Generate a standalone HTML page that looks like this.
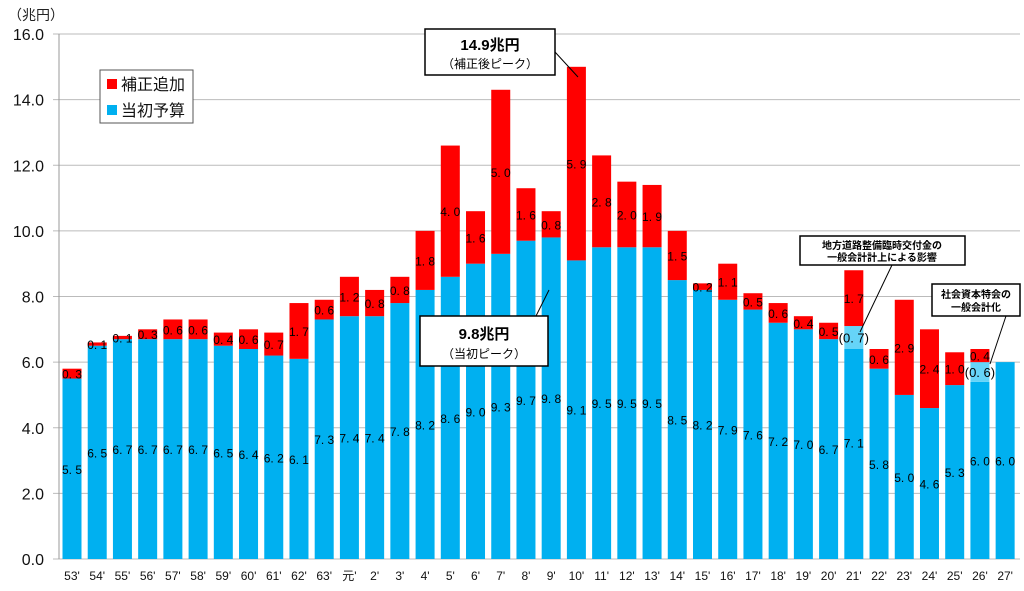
<!DOCTYPE html>
<html><head><meta charset="utf-8"><style>
body{margin:0;background:#fff;width:1024px;height:586px;overflow:hidden;font-family:"Liberation Sans","Noto Sans CJK JP",sans-serif}
svg text{font-family:"Liberation Sans","Noto Sans CJK JP",sans-serif}
</style></head><body>
<svg id="chart" width="1024" height="586" xmlns="http://www.w3.org/2000/svg">
<g id="grid"></g><g id="bars"></g><g id="labels"></g>
<text x="8" y="20" font-size="14" fill="#222">（兆円）</text>
<g>
<rect x="100" y="70" width="93" height="53" fill="#fff" stroke="#555"/>
<rect x="107" y="79" width="10" height="10" fill="#ff0000"/>
<text x="121" y="90" font-size="16" fill="#111">補正追加</text>
<rect x="107" y="105" width="10" height="10" fill="#00b0f0"/>
<text x="121" y="116" font-size="16" fill="#111">当初予算</text>
</g>
<g>
<line x1="555" y1="52" x2="578" y2="77" stroke="#000"/>
<rect x="425" y="29" width="130" height="46" fill="#fff" stroke="#000" stroke-width="1.5"/>
<text x="490" y="50" font-size="15" text-anchor="middle" font-weight="bold">14.9兆円</text>
<text x="490" y="68" font-size="12" text-anchor="middle">（補正後ピーク）</text>
</g>
<g>
<line x1="535" y1="318" x2="549" y2="290" stroke="#000"/>
<rect x="420" y="316" width="128" height="50" fill="#fff" stroke="#000" stroke-width="1.5"/>
<text x="484" y="339" font-size="15" text-anchor="middle" font-weight="bold">9.8兆円</text>
<text x="484" y="358" font-size="12" text-anchor="middle">（当初ピーク）</text>
</g>
<g>
<line x1="892" y1="265" x2="860" y2="332" stroke="#000"/>
<rect x="800" y="236" width="165" height="29" fill="#fff" stroke="#000" stroke-width="1.5"/>
<text x="882" y="249" font-size="10" text-anchor="middle" font-weight="bold">地方道路整備臨時交付金の</text>
<text x="882" y="261" font-size="10" text-anchor="middle" font-weight="bold">一般会計計上による影響</text>
</g>
<g>
<line x1="1006" y1="316" x2="990" y2="364" stroke="#000"/>
<rect x="932" y="284" width="88" height="32" fill="#fff" stroke="#000" stroke-width="1.5"/>
<text x="976" y="298" font-size="10" text-anchor="middle" font-weight="bold">社会資本特会の</text>
<text x="976" y="311" font-size="10" text-anchor="middle" font-weight="bold">一般会計化</text>
</g>
</svg>
<script>
const categories=["53'","54'","55'","56'","57'","58'","59'","60'","61'","62'","63'","元'","2'","3'","4'","5'","6'","7'","8'","9'","10'","11'","12'","13'","14'","15'","16'","17'","18'","19'","20'","21'","22'","23'","24'","25'","26'","27'"];
const initialBudget=[5.5,6.5,6.7,6.7,6.7,6.7,6.5,6.4,6.2,6.1,7.3,7.4,7.4,7.8,8.2,8.6,9.0,9.3,9.7,9.8,9.1,9.5,9.5,9.5,8.5,8.2,7.9,7.6,7.2,7.0,6.7,7.1,5.8,5.0,4.6,5.3,6.0,6.0];
const structuralPart=[0,0,0,0,0,0,0,0,0,0,0,0,0,0,0,0,0,0,0,0,0,0,0,0,0,0,0,0,0,0,0,0.7,0,0,0,0,0.6,0];
const supplement=[0.3,0.1,0.1,0.3,0.6,0.6,0.4,0.6,0.7,1.7,0.6,1.2,0.8,0.8,1.8,4.0,1.6,5.0,1.6,0.8,5.9,2.8,2.0,1.9,1.5,0.2,1.1,0.5,0.6,0.4,0.5,1.7,0.6,2.9,2.4,1.0,0.4,0];
const yTicks=[0,2,4,6,8,10,12,14,16];
const NS="http://www.w3.org/2000/svg";
const X0=59,X1=1020,Y0=559,Y1=34;
const y=v=>Y0-(v/16)*(Y0-Y1);
const step=25.22, bw=19;
const x=i=>72+i*step;
function mk(tag,attrs,parent){const e=document.createElementNS(NS,tag);for(const k in attrs)e.setAttribute(k,attrs[k]);document.getElementById(parent).appendChild(e);return e;}
const fmt=v=>v.toFixed(1).replace('.', '. ');
yTicks.forEach(t=>{
 const l=mk('line',{x1:X0-6,x2:X1,y1:y(t),y2:y(t),stroke:'#bbb','stroke-width':1},'grid');
 
 
 const tx=mk('text',{x:44,y:y(t)+6,'font-size':16,'text-anchor':'end',fill:'#111'},'grid');tx.textContent=t.toFixed(1);
 
 
});
const ax=mk('line',{x1:X0,x2:X0,y1:Y1,y2:Y0,stroke:'#999'},'grid');


categories.forEach((c,i)=>{
 const cx=x(i), b=initialBudget[i], s=structuralPart[i], a=supplement[i];
 const base=b-s;
 const r1=mk('rect',{x:cx-bw/2,y:y(base),width:bw,height:y(0)-y(base),fill:'#00b0f0'},'bars');
 
 
 if(s>0){const r=mk('rect',{x:cx-bw/2,y:y(b),width:bw,height:y(base)-y(b),fill:'#66d4f8'},'bars');
  
  
  const t=mk('text',{x:cx,y:(y(b)+y(base))/2+5,'font-size':13,'text-anchor':'middle','font-family':'Liberation Mono'},'labels');t.textContent='('+fmt(s)+')';
  
  }
 if(a>0){const r=mk('rect',{x:cx-bw/2,y:y(b+a),width:bw,height:y(b)-y(b+a),fill:'#ff0000'},'bars');
  
  
  const t=mk('text',{x:cx,y:(y(b)+y(b+a))/2+5,'font-size':12,'text-anchor':'middle','font-family':'Liberation Mono'},'labels');t.textContent=fmt(a);
  
  }
 const t=mk('text',{x:cx,y:(y(0)+y(b))/2+5,'font-size':12,'text-anchor':'middle','font-family':'Liberation Mono'},'labels');t.textContent=fmt(b);
 
 
 const xl=mk('text',{x:cx,y:580,'font-size':12,'text-anchor':'middle',fill:'#111'},'labels');xl.textContent=c;
 
 
});
</script>
</body></html>
